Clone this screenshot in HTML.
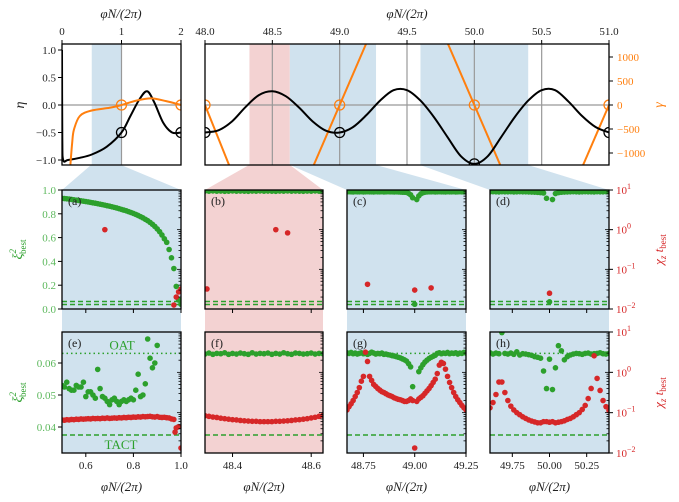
<!DOCTYPE html>
<html><head><meta charset="utf-8"><style>
body{margin:0;background:#fff}
svg{display:block;font-family:"Liberation Serif",serif}
</style></head><body>
<svg id="fig" width="679" height="502" viewBox="0 0 679 502" xmlns="http://www.w3.org/2000/svg"></svg>
<script>
// ---------- DATA ----------
const tlEtaX=[0,0.005,0.02,0.1,0.3,0.5,0.75,1.0,1.15,1.3,1.43,1.55,1.7,1.85,2.0];
const tlEtaY=[1.0,-0.6,-1.0,-1.0,-0.96,-0.9,-0.76,-0.5,-0.2,0.1,0.25,0.05,-0.32,-0.5,-0.5];
const tlGamX=[0.14,0.17,0.2,0.3,0.5,0.8,1.0,1.25,1.5,1.75,2.0];
const tlGamY=[-1.1,-0.7,-0.45,-0.2,-0.1,-0.05,0,0.08,0.12,0.07,0];
const trEtaX=[48.0,48.1,48.2,48.3,48.4,48.5,48.6,48.7,48.8,48.9,49.0,49.1,49.2,49.3,49.4,49.5,49.6,49.7,49.8,49.9,50.0,50.1,50.2,50.3,50.4,50.5,50.6,50.7,50.8,50.9,51.0];
const trEtaY=[-0.5,-0.46,-0.3,-0.04,0.18,0.25,0.16,-0.05,-0.3,-0.47,-0.5,-0.4,-0.18,0.08,0.27,0.27,0.08,-0.22,-0.58,-0.93,-1.07,-0.93,-0.58,-0.22,0.08,0.27,0.27,0.06,-0.2,-0.4,-0.5];
const trGamSegs=[[[48.0,0],[48.2,-1400]],[[48.8,-1300],[49.2,1300]],[[49.8,1300],[50.2,-1300]],[[50.8,-1300],[51.0,0]]];
const tlEtaMarks=[[1,-0.5],[2,-0.5]];const tlGamMarks=[[1,0],[2,0]];
const trEtaMarks=[[48,-0.5],[49,-0.5],[50,-1.07],[51,-0.5]];const trGamMarks=[[48,0],[49,0],[50,0],[51,0]];

const aGreen=[0.930,0.928,0.926,0.924,0.921,0.918,0.915,0.912,0.909,0.906,0.903,0.900,0.896,0.892,0.889,0.885,0.881,0.877,0.873,0.868,0.864,0.859,0.854,0.849,0.843,0.837,0.831,0.825,0.818,0.811,0.803,0.795,0.786,0.776,0.766,0.754,0.742,0.728,0.712,0.694,0.673,0.650,0.622,0.590,0.560,0.500,0.430,0.340,0.190,0.075,0.040];
const aRed=[[0.68,1.0],[0.97,0.0126],[0.98,0.02],[0.99,0.027],[1.0,0.032]];
const bGreen=[0.991,0.99,0.992,0.99,0.991,0.989,0.99,0.992,0.99,0.991,0.99,0.989,0.991,0.99,0.992,0.99,0.991,0.99,0.989,0.991,0.99,0.992,0.99,0.991,0.99,0.989,0.991,0.99,0.992,0.99,0.991];
const bRed=[[48.335,0.032],[48.51,1.0],[48.54,0.83]];
const cGreen=[0.985,0.986,0.985,0.984,0.986,0.985,0.985,0.986,0.984,0.985,0.986,0.985,0.985,0.984,0.986,0.985,0.985,0.986,0.984,0.985,0.986,0.985,0.985,0.984,0.985,0.984,0.983,0.982,0.981,0.98,0.972,0.96,0.935,null,0.92,0.95,0.968,0.977,0.982,0.984,0.985,0.985,0.986,0.984,0.985,0.986,0.985,0.985,0.984,0.986,0.985,0.985,0.986,0.984,0.985,0.986,0.985,0.985,0.984];
const cExtra=[[49.0,0.04]];
const cRed=[[48.77,0.042],[49.0,0.03],[49.08,0.034]];
const dGreen=[0.985,0.986,0.985,0.984,0.986,0.985,0.985,0.986,0.984,0.985,0.986,0.985,0.985,0.984,0.983,0.982,0.98,0.978,0.975,0.93,null,0.92,0.97,0.978,0.981,0.983,0.984,0.985,0.986,0.985,0.984,0.985,0.986,0.985,0.985,0.984,0.986,0.985,0.985,0.986,0.985];
const dExtra=[[50.0,0.06]];
const dRed=[[50.0,0.025]];

const eGreen=[[0.5,0.053],[0.51,0.0525],[0.52,0.054],[0.53,0.052],[0.54,0.0515],[0.55,0.0515],[0.56,0.053],[0.57,0.0525],[0.58,0.0525],[0.59,0.054],[0.6,0.0495],[0.61,0.051],[0.62,0.051],[0.63,0.050],[0.64,0.049],[0.65,0.058],[0.66,0.052],[0.67,0.0495],[0.68,0.049],[0.69,0.048],[0.70,0.047],[0.71,0.0485],[0.72,0.049],[0.73,0.048],[0.74,0.047],[0.75,0.048],[0.76,0.0485],[0.77,0.048],[0.78,0.0485],[0.79,0.049],[0.80,0.0485],[0.81,0.0515],[0.82,0.0565],[0.83,0.0495],[0.84,0.050],[0.85,0.0535],[0.86,0.0675],[0.87,0.0615],[0.88,0.0585],[0.89,0.060],[0.9,0.0655]];
const eRed=[0.066,0.065,0.067,0.066,0.068,0.067,0.069,0.068,0.07,0.069,0.07,0.071,0.07,0.072,0.071,0.072,0.071,0.073,0.072,0.074,0.072,0.073,0.074,0.073,0.075,0.074,0.076,0.075,0.077,0.076,0.078,0.077,0.079,0.078,0.08,0.079,0.08,0.081,0.079,0.078,0.08,0.077,0.076,0.077,0.075,0.074];
const eRedTail=[[0.96,0.07],[0.97,0.068],[0.975,0.033],[0.98,0.042],[0.99,0.045],[1.0,0.0133]];
const fGreen=[0.0628,0.0631,0.0627,0.063,0.0629,0.0632,0.0627,0.063,0.0628,0.0631,0.0629,0.0627,0.0632,0.0628,0.063,0.0629,0.0631,0.0627,0.063,0.0628,0.0632,0.0629,0.0627,0.0631,0.063,0.0628,0.0629,0.0631,0.0628,0.063,0.0629];
const fRed=[0.084,0.081,0.078,0.076,0.073,0.071,0.069,0.067,0.066,0.064,0.063,0.062,0.061,0.061,0.06,0.06,0.06,0.06,0.061,0.061,0.062,0.063,0.064,0.066,0.067,0.069,0.071,0.074,0.077,0.081,0.086];
const gGreen=[0.0632,0.0630,0.0633,0.0629,0.0631,0.0628,0.0630,0.0632,0.0629,0.0631,0.0627,0.0630,0.0634,0.0631,0.0628,0.0630,0.0629,0.0631,0.0627,0.0628,0.0626,0.0625,0.0623,0.0622,0.062,0.0618,0.0616,0.0613,0.061,0.0606,0.0598,0.0588,0.0526,null,null,0.0573,0.0585,0.0595,0.0603,0.0609,0.0614,0.0618,0.0621,0.0624,0.063,0.0632,0.0629,0.0631,0.063,0.0633,0.0629,0.0631,0.063,0.0632,0.0628,0.0631,0.063,0.0633,0.0631];
const gRed=[0.117,0.141,0.166,0.2,0.251,0.316,0.417,0.603,0.794,3.16,1.86,0.794,0.631,0.501,0.447,0.398,0.363,0.331,0.316,0.295,0.275,0.263,0.251,0.234,0.224,0.214,0.209,0.2,0.19,0.19,0.2,0.219,0.2,0.0133,0.19,0.219,0.24,0.263,0.302,0.347,0.398,0.468,0.562,0.676,0.933,1.51,1.78,1.66,1.2,0.794,0.562,0.417,0.316,0.251,0.209,0.178,0.151,0.132,0.117];
const hGreen=[0.0632,0.0628,0.0631,0.0629,0.0695,0.063,0.0628,0.0631,0.0627,0.0635,0.0625,0.0629,0.0628,0.0626,0.0624,0.062,0.0618,0.0615,0.0575,0.052,0.0612,0.0517,0.0585,0.0654,0.0638,0.061,0.062,0.0625,0.0628,0.063,0.0629,0.0627,0.063,0.0631,0.0628,0.0629,0.063,0.0632,0.0629,0.0628,0.063];
const hRed=[0.132,0.178,0.282,0.575,0.575,0.316,0.2,0.145,0.117,0.1,0.089,0.079,0.072,0.066,0.062,0.059,0.056,0.056,0.06,0.06,0.058,0.06,0.056,0.058,0.06,0.063,0.068,0.072,0.079,0.089,0.1,0.12,0.151,0.224,0.398,2.57,0.708,0.355,0.2,0.141,0.112];
const OAT=0.063, TACT=0.0375;

// ---------- DRAW ----------
const NS="http://www.w3.org/2000/svg";const svg=document.getElementById('fig');
function el(tag,attrs,parent){const e=document.createElementNS(NS,tag);for(const k in attrs)e.setAttribute(k,attrs[k]);(parent||svg).appendChild(e);return e;}
function txt(x,y,s,opt,parent){opt=opt||{};const t=el('text',{x:x,y:y,'font-size':opt.fs||11,fill:opt.fill||'#222','text-anchor':opt.anchor||'middle'},parent);if(opt.rot)t.setAttribute('transform','rotate(-90 '+x+' '+y+')');if(opt.italic)t.setAttribute('font-style','italic');t.textContent=s;return t;}
const BLUE='#d0e2ee',PINK='#f3d2d2',GREEN='#2ca02c',RED='#d62728',ORANGE='#ff7f0e',LG='#5cb85c';

// connectors
const conn=[[[91,165],[121,165],[181,190],[62,190],BLUE],[[249,165],[290,165],[323,190],[205,190],PINK],[[290,165],[376,165],[466,190],[347,190],BLUE],[[420,165],[528,165],[609,190],[490,190],BLUE]];
conn.forEach((c,i)=>{const p=el('polygon',{points:c.slice(0,4).map(q=>q.join(',')).join(' '),fill:c[4]});

});
// gaps between rows
[[62,181,BLUE],[205,323,PINK],[347,466,BLUE],[490,609,BLUE]].forEach((c,i)=>{const r=el('rect',{x:c[0],y:309,width:c[1]-c[0],height:23,fill:c[2]});

});

function pathFrom(pts){return pts.map((p,i)=>(i?'L':'M')+p[0].toFixed(1)+','+p[1].toFixed(1)).join('');}
function smooth(pts){let d='M'+pts[0][0]+','+pts[0][1];for(let i=0;i<pts.length-1;i++){const p0=pts[i-1]||pts[i],p1=pts[i],p2=pts[i+1],p3=pts[i+2]||p2;d+=' C'+(p1[0]+(p2[0]-p0[0])/6)+','+(p1[1]+(p2[1]-p0[1])/6)+' '+(p2[0]-(p3[0]-p1[0])/6)+','+(p2[1]-(p3[1]-p1[1])/6)+' '+p2[0]+','+p2[1];}return d;}
let clipN=0;function clip(x0,y0,x1,y1){const id='c'+(clipN++);const cp=el('clipPath',{id:id});el('rect',{x:x0,y:y0,width:x1-x0,height:y1-y0},cp);return 'url(#'+id+')';}

// ---- top-left panel
(function(){
 const X=v=>62+v*59.5,Y=v=>105-v*55;
 const g=el('g',{'clip-path':clip(62,44,181,165)});
 
 el('rect',{x:X(0.5),y:44,width:X(1)-X(0.5),height:121,fill:BLUE},g);
 el('line',{x1:X(1),x2:X(1),y1:44,y2:165,stroke:'#999','stroke-width':1.2},g);
 el('line',{x1:62,x2:181,y1:Y(0),y2:Y(0),stroke:'#999','stroke-width':1.2},g);
 const eta=el('path',{d:smooth(tlEtaX.map((x,i)=>[X(x),Y(tlEtaY[i])])),fill:'none',stroke:'#000','stroke-width':2},g);
 
 const gm=el('path',{d:smooth(tlGamX.map((x,i)=>[X(x),Y(tlGamY[i])])),fill:'none',stroke:ORANGE,'stroke-width':2},g);
 
 tlEtaMarks.forEach(m=>el('circle',{cx:X(m[0]),cy:Y(m[1]),r:5,fill:'none',stroke:'#000','stroke-width':1.3},g));
 tlGamMarks.forEach(m=>el('circle',{cx:X(m[0]),cy:Y(m[1]),r:5,fill:'none',stroke:ORANGE,'stroke-width':1.3},g));
 const f=el('rect',{x:62,y:44,width:119,height:121,fill:'none',stroke:'#000','stroke-width':1.3});
 
 [0,1,2].forEach(v=>{el('line',{x1:X(v),x2:X(v),y1:44,y2:40,stroke:'#000'});txt(X(v),35,String(v));});
 [[1,'1.0'],[0.5,'0.5'],[0,'0.0'],[-0.5,'−0.5'],[-1,'−1.0']].forEach(t=>{el('line',{x1:58,x2:62,y1:Y(t[0]),y2:Y(t[0]),stroke:'#000'});txt(56,Y(t[0])+4,t[1],{anchor:'end'});});
 const yl=txt(24,105,'η',{fs:14,italic:true,rot:true});
 const xl=txt(121,18,'φN/(2π)',{fs:13,italic:true});
})();

// ---- top-right panel
(function(){
 const X=v=>205+(v-48)*134.67,Y=v=>105-v*55,YG=v=>105-v*0.048;
 const g=el('g',{'clip-path':clip(205,44,609,165)});
 
 el('rect',{x:X(48.33),y:44,width:X(48.63)-X(48.33),height:121,fill:PINK},g);
 el('rect',{x:X(48.63),y:44,width:X(49.27)-X(48.63),height:121,fill:BLUE},g);
 el('rect',{x:X(49.6),y:44,width:X(50.4)-X(49.6),height:121,fill:BLUE},g);
 [48.5,49,49.5,50,50.5].forEach(v=>el('line',{x1:X(v),x2:X(v),y1:44,y2:165,stroke:'#999','stroke-width':1.2},g));
 el('line',{x1:205,x2:609,y1:Y(0),y2:Y(0),stroke:'#999','stroke-width':1.2},g);
 trGamSegs.forEach((s,i)=>{const l=el('line',{x1:X(s[0][0]),y1:YG(s[0][1]),x2:X(s[1][0]),y2:YG(s[1][1]),stroke:ORANGE,'stroke-width':2},g);
  });
 const eta=el('path',{d:smooth(trEtaX.map((x,i)=>[X(x),Y(trEtaY[i])])),fill:'none',stroke:'#000','stroke-width':2},g);
 
 trEtaMarks.forEach(m=>el('circle',{cx:X(m[0]),cy:Y(m[1]),r:5,fill:'none',stroke:'#000','stroke-width':1.3},g));
 trGamMarks.forEach(m=>el('circle',{cx:X(m[0]),cy:YG(m[1]),r:5,fill:'none',stroke:ORANGE,'stroke-width':1.3},g));
 const f=el('rect',{x:205,y:44,width:404,height:121,fill:'none',stroke:'#000','stroke-width':1.3});
 
 [48,48.5,49,49.5,50,50.5,51].forEach(v=>{el('line',{x1:X(v),x2:X(v),y1:44,y2:40,stroke:'#000'});txt(X(v),35,v.toFixed(1));});
 [[1000,'1000'],[500,'500'],[0,'0'],[-500,'−500'],[-1000,'−1000']].forEach(t=>{el('line',{x1:609,x2:613,y1:YG(t[0]),y2:YG(t[0]),stroke:'#000'});txt(617,YG(t[0])+4,t[1],{anchor:'start',fill:ORANGE});});
 const yl=txt(663,105,'γ',{fs:14,italic:true,rot:true,fill:ORANGE});
 const xl=txt(407,18,'φN/(2π)',{fs:13,italic:true});
})();

// ---- bottom panels
const panels=[
 {n:'a',x0:62,x1:181,d0:0.5,d1:1.0,row:1,bg:BLUE},
 {n:'b',x0:205,x1:323,d0:48.33,d1:48.63,row:1,bg:PINK},
 {n:'c',x0:347,x1:466,d0:48.67,d1:49.25,row:1,bg:BLUE},
 {n:'d',x0:490,x1:609,d0:49.6,d1:50.4,row:1,bg:BLUE},
 {n:'e',x0:62,x1:181,d0:0.5,d1:1.0,row:2,bg:BLUE},
 {n:'f',x0:205,x1:323,d0:48.33,d1:48.63,row:2,bg:PINK},
 {n:'g',x0:347,x1:466,d0:48.67,d1:49.25,row:2,bg:BLUE},
 {n:'h',x0:490,x1:609,d0:49.6,d1:50.4,row:2,bg:BLUE}];
const series={
 a:{g:aGreen.map((v,i)=>[0.5+i*0.01,v]),r:aRed},
 b:{g:bGreen.map((v,i)=>[48.33+i*0.01,v]),r:bRed},
 c:{g:cGreen.map((v,i)=>[48.67+i*0.01,v]).concat(cExtra),r:cRed},
 d:{g:dGreen.map((v,i)=>[49.6+i*0.02,v]).concat(dExtra),r:dRed},
 e:{g:eGreen,r:eRed.map((v,i)=>[0.5+i*0.01,v]).concat(eRedTail)},
 f:{g:fGreen.map((v,i)=>[48.33+i*0.01,v]),r:fRed.map((v,i)=>[48.33+i*0.01,v])},
 g:{g:gGreen.map((v,i)=>[48.67+i*0.01,v]),r:gRed.map((v,i)=>[48.67+i*0.01,v])},
 h:{g:hGreen.map((v,i)=>[49.6+i*0.02,v]),r:hRed.map((v,i)=>[49.6+i*0.02,v])}};
const xticks={a:[[0.6,'0.6'],[0.8,'0.8'],[1.0,'1.0']],b:[[48.4,'48.4'],[48.6,'48.6']],c:[[48.75,'48.75'],[49.0,'49.00'],[49.25,'49.25']],d:[[49.75,'49.75'],[50.0,'50.00'],[50.25,'50.25']]};
panels.forEach(p=>{
 const y0=p.row==1?190:332,y1=p.row==1?309:453;
 const X=v=>p.x0+(v-p.d0)/(p.d1-p.d0)*(p.x1-p.x0);
 const YL=p.row==1?(v=>309-v*119):(v=>363-(v-0.06)*3200);
 const YR=p.row==1?(v=>309-(Math.log10(v)+2)*39.67):(v=>453-(Math.log10(v)+2)*40.33);
 const g=el('g',{'clip-path':clip(p.x0,y0,p.x1,y1)});
 
 el('rect',{x:p.x0,y:y0,width:p.x1-p.x0,height:y1-y0,fill:p.bg},g);
 const lo=el('line',{x1:p.x0,x2:p.x1,y1:YL(OAT),y2:YL(OAT),stroke:GREEN,'stroke-width':1.5,'stroke-dasharray':p.row==1?'5,3':'1.5,3'},g);
 
 const lt=el('line',{x1:p.x0,x2:p.x1,y1:YL(TACT),y2:YL(TACT),stroke:GREEN,'stroke-width':1.5,'stroke-dasharray':'5,3'},g);
 
 const s=series[p.n];
 s.g.forEach(q=>{if(q[1]==null)return;const c=el('circle',{cx:X(q[0]),cy:YL(q[1]),r:2.8,fill:GREEN},g);
  });
 s.r.forEach(q=>{const c=el('circle',{cx:X(q[0]),cy:YR(q[1]),r:2.8,fill:RED},g);
  });
 // minor log ticks on right spine
 for(let e=-2;e<1;e++)for(let m=1;m<10;m++){const yy=YR(m*Math.pow(10,e));el('line',{x1:p.x1,x2:p.x1-(m==1?4:2.5),y1:yy,y2:yy,stroke:'#000','stroke-width':0.8});}
 const f=el('rect',{x:p.x0,y:y0,width:p.x1-p.x0,height:y1-y0,fill:'none',stroke:'#000','stroke-width':1.3});
 
 const lab=txt(p.x0+6,y0+15,'('+p.n+')',{anchor:'start',fs:12});
 const key=p.row==1?p.n:{e:'a',f:'b',g:'c',h:'d'}[p.n];
 xticks[key].forEach(t=>{el('line',{x1:X(t[0]),x2:X(t[0]),y1:y1,y2:y1+4,stroke:'#000'});if(p.row==2)txt(X(t[0]),y1+16,t[1]);});
 if(p.row==2){const xl=txt((p.x0+p.x1)/2,491,'φN/(2π)',{fs:13,italic:true});}
 if(p.n=='a'){[0,0.2,0.4,0.6,0.8,1.0].forEach(v=>{el('line',{x1:58,x2:62,y1:YL(v),y2:YL(v),stroke:'#000'});txt(56,YL(v)+4,v.toFixed(1),{anchor:'end',fill:LG});});}
 if(p.n=='e'){[0.04,0.05,0.06].forEach(v=>{el('line',{x1:58,x2:62,y1:YL(v),y2:YL(v),stroke:'#000'});txt(56,YL(v)+4,v.toFixed(2),{anchor:'end',fill:LG});});
  const o=txt(122,YL(OAT)-4,'OAT',{fs:13,fill:GREEN});
  const t=txt(121,YL(TACT)+14,'TACT',{fs:13,fill:GREEN});}
 if(p.n=='d'||p.n=='h'){[-2,-1,0,1].forEach(e=>{const yy=YR(Math.pow(10,e));el('line',{x1:609,x2:613,y1:yy,y2:yy,stroke:'#000'});
  const t=txt(616,yy+4,'10',{anchor:'start',fill:RED});const sp=el('tspan',{dy:-5,'font-size':8},t);sp.textContent=e<0?'−'+(-e):String(e);});
  const yl=el('text',{x:663,y:(y0+y1)/2,'font-size':13,fill:RED,'text-anchor':'middle','font-style':'italic',transform:'rotate(-90 663 '+(y0+y1)/2+')'});
  
  yl.textContent='χ';const a=el('tspan',{'font-size':9,dy:3},yl);a.textContent='z';const b=el('tspan',{dy:-3},yl);b.textContent=' t';const c=el('tspan',{'font-size':9,dy:3,'font-style':'normal'},yl);c.textContent='best';}
 if(p.n=='a'||p.n=='e'){const yy=(y0+y1)/2;const yl=el('text',{x:22,y:yy,'font-size':14,fill:GREEN,'text-anchor':'middle','font-style':'italic',transform:'rotate(-90 22 '+yy+')'});
  
  yl.textContent='ξ';const a=el('tspan',{'font-size':9,dy:-6},yl);a.textContent='2';const b=el('tspan',{'font-size':9,dx:-5,dy:10,'font-style':'normal'},yl);b.textContent='best';}
});
</script>
</body></html>
